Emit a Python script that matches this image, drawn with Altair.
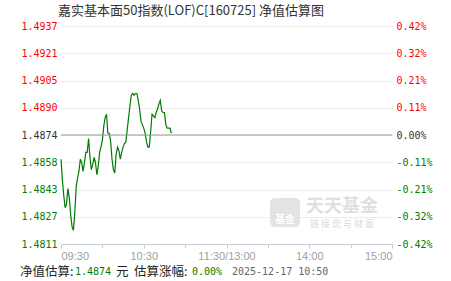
import altair as alt
import pandas as pd

# ---- data ----
times = ["09:%02d" % m for m in range(30, 60)] + ["10:%02d" % m for m in range(0, 51)]
nav = [1.4860, 1.4848, 1.4839, 1.4832, 1.4834, 1.4843, 1.4838, 1.4828, 1.4821, 1.4819,
       1.4829, 1.4844, 1.4849, 1.4853, 1.4860, 1.4858, 1.4853, 1.4858, 1.4864, 1.4864,
       1.4872, 1.4861, 1.4854, 1.4857, 1.4861, 1.4858, 1.4851, 1.4856, 1.4864, 1.4867,
       1.4871, 1.4879, 1.4884, 1.4886, 1.4875, 1.4875, 1.4870, 1.4860, 1.4854, 1.4852,
       1.4863, 1.4867, 1.4865, 1.4860, 1.4864, 1.4867, 1.4869, 1.4870, 1.4877, 1.4884,
       1.4891, 1.4897, 1.4898, 1.4897, 1.4898, 1.4898, 1.4894, 1.4889, 1.4882, 1.4880,
       1.4878, 1.4875, 1.4870, 1.4867, 1.4867, 1.4876, 1.4886, 1.4885, 1.4884, 1.4887,
       1.4889, 1.4892, 1.4894, 1.4888, 1.4887, 1.4887, 1.4880, 1.4878, 1.4878, 1.4878,
       1.4875]
base_nav = 1.4874
y_lo, y_hi = 1.4811, 1.4937
left_labels = ["1.4811", "1.4827", "1.4843", "1.4858", "1.4874", "1.4890", "1.4905", "1.4921", "1.4937"]
right_labels = ["-0.42%", "-0.32%", "-0.21%", "-0.11%", "0.00%", "0.11%", "0.21%", "0.32%", "0.42%"]
x_tick_minutes = [0, 30, 60, 90, 120, 150, 180, 210, 240]
x_labels = ["09:30", "", "10:30", "", "11:30/13:00", "", "14:00", "", "15:00"]
title_text = "嘉实基本面50指数(LOF)C[160725] 净值估算图"
foot_label1 = "净值估算:"
foot_value1 = "1.4874"
foot_unit = "元"
foot_label2 = "估算涨幅:"
foot_value2 = "0.00%"
foot_time = "2025-12-17 10:50"

W, H = 331, 218
step = (y_hi - y_lo) / 8
y_ticks = [y_lo + i * step for i in range(9)]

df = pd.DataFrame({"minute": list(range(len(nav))), "time": times, "nav": nav})

yscale = alt.Scale(domain=[y_lo, y_hi], zero=False, nice=False)
xscale = alt.Scale(domain=[0, 240], nice=False)

color_expr = (f"datum.value > {base_nav + step/4} ? '#ff0000' : "
              f"(datum.value < {base_nav - step/4} ? '#008000' : '#333333')")
idx_expr = f"round((datum.value - {y_lo}) / {step})"

x_axis = alt.Axis(values=x_tick_minutes, labelExpr=f"{x_labels}[round(datum.value/30)]",
                  grid=False, domainColor="#c3cdd8", tickColor="#c3cdd8", tickSize=4,
                  labelFlush=True, labelOverlap=False, labelColor="#a0a0a0",
                  labelFont="Liberation Sans", labelFontSize=11, labelPadding=2, title=None)

left_axis = alt.Axis(values=y_ticks, labelExpr=f"{left_labels}[{idx_expr}]",
                     domain=False, ticks=False, grid=True, gridColor="#d8d8d8",
                     gridDash=[1, 1], labelColor=alt.ExprRef(expr=color_expr),
                     labelFont="DejaVu Sans Mono", labelFontSize=10, labelPadding=4,
                     title=None)

right_axis = alt.Axis(values=y_ticks, labelExpr=f"{right_labels}[{idx_expr}]", orient="right",
                      domain=False, ticks=False, grid=False,
                      labelColor=alt.ExprRef(expr=color_expr),
                      labelFont="DejaVu Sans Mono", labelFontSize=10, labelPadding=4,
                      title=None)

line = alt.Chart(df).mark_line(color="#007a00", strokeWidth=1.2).encode(
    x=alt.X("minute:Q", scale=xscale, axis=x_axis),
    y=alt.Y("nav:Q", scale=yscale, axis=left_axis),
)

base_rule = alt.Chart(pd.DataFrame({"v": [base_nav]})).mark_rule(
    color="#999999", strokeWidth=1).encode(
    y=alt.Y("v:Q", scale=yscale, axis=right_axis),
)

one = pd.DataFrame({"a": [0]})

# watermark
logo = alt.Chart(one).mark_rect(color="#e3e3e3", cornerRadius=5).encode(
    x=alt.value(209), x2=alt.value(239), y=alt.value(172), y2=alt.value(201))
logo_txt = alt.Chart(one).mark_text(text="基金", color="#ffffff", fontSize=10, fontWeight="bold",
                                    font="Noto Sans CJK SC", x=224, y=194)
wm1 = alt.Chart(one).mark_text(text="天天基金", color="#e0e0e0", fontSize=18, fontWeight="bold",
                               font="Noto Sans CJK SC", x=281, y=181)
wm2 = alt.Chart(one).mark_text(text="链 接 您 与 财 富", color="#d9d9d9", fontSize=9,
                               font="Noto Sans CJK SC", x=281, y=198)

def txt(s, x, y, color, font, size, align="left"):
    return alt.Chart(one).mark_text(text=s, x=x, y=y, color=color, font=font,
                                    fontSize=size, align=align, baseline="middle")

title = txt(title_text, -3, -15, "#333333", "Noto Sans CJK SC", 13)
f1 = txt(foot_label1, -41, 246, "#222222", "Noto Sans CJK SC", 12.5)
f2 = txt(foot_value1, 14, 246, "#008000", "DejaVu Sans Mono", 10)
f3 = txt(foot_unit, 55, 246, "#222222", "Noto Sans CJK SC", 12.5)
f4 = txt(foot_label2, 73, 246, "#222222", "Noto Sans CJK SC", 12.5)
f5 = txt(foot_value2, 131, 246, "#008000", "DejaVu Sans Mono", 10)
f6 = txt(foot_time, 171, 246, "#666666", "DejaVu Sans Mono", 10)

chart = alt.layer(
    logo, logo_txt, wm1, wm2, line, base_rule, title, f1, f2, f3, f4, f5, f6
).resolve_axis(y="independent").properties(
    width=W, height=H,
    autosize=alt.AutoSizeParams(type="none"),
    padding={"left": 61, "top": 26, "right": 451 - 61 - W, "bottom": 281 - 26 - H},
    background="#ffffff",
).configure_view(strokeWidth=0)

chart.save("out.html", embed_options={"renderer": "svg", "actions": False})
